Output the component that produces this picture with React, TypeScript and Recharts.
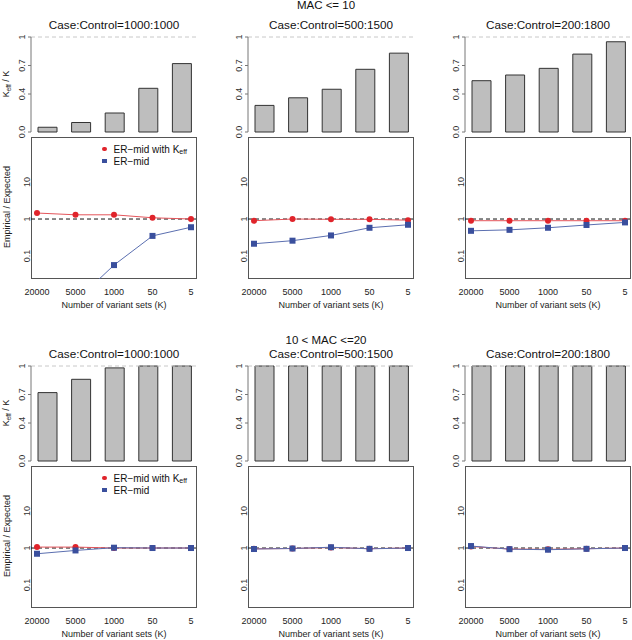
import { Bar, BarChart, Line, LineChart, ReferenceLine, XAxis, YAxis } from "recharts";

const FONT = "'Liberation Sans', Arial, Helvetica, sans-serif";

const K_LABELS = ["20000", "5000", "1000", "50", "5"];
const ROW_TITLES = ["MAC <= 10", "10 < MAC <=20"];
const CASE_CONTROL = ["Case:Control=1000:1000", "Case:Control=500:1500", "Case:Control=200:1800"];
const BAR_TICKS = [0, 0.4, 0.7, 1];
const RATIO_TICKS = [0.1, 1, 10];

// Keff / K (bars)
const KEFF_MAC10_1000 = [0.05, 0.1, 0.2, 0.46, 0.72];
const KEFF_MAC10_500 = [0.28, 0.36, 0.45, 0.66, 0.83];
const KEFF_MAC10_200 = [0.54, 0.6, 0.67, 0.82, 0.95];
const KEFF_MAC20_1000 = [0.72, 0.86, 0.98, 1.0, 1.0];
const KEFF_MAC20_500 = [1.0, 1.0, 1.0, 1.0, 1.0];
const KEFF_MAC20_200 = [1.0, 1.0, 1.0, 1.0, 1.0];

// Empirical / Expected, ER-mid with Keff
const ERK_MAC10_1000 = [1.45, 1.3, 1.3, 1.08, 1.0];
const ERK_MAC10_500 = [0.9, 1.0, 0.98, 0.98, 0.93];
const ERK_MAC10_200 = [0.9, 0.9, 0.9, 0.9, 0.9];
const ERK_MAC20_1000 = [1.06, 1.06, 1.0, 1.0, 1.0];
const ERK_MAC20_500 = [0.95, 0.97, 1.03, 0.96, 1.0];
const ERK_MAC20_200 = [1.1, 0.94, 0.92, 0.96, 1.0];

// Empirical / Expected, ER-mid
const ER_MAC10_1000 = [0.002, 0.006, 0.057, 0.35, 0.6];
const ER_MAC10_500 = [0.215, 0.26, 0.36, 0.58, 0.7];
const ER_MAC10_200 = [0.48, 0.51, 0.58, 0.69, 0.81];
const ER_MAC20_1000 = [0.7, 0.86, 1.02, 1.0, 1.0];
const ER_MAC20_500 = [0.94, 0.97, 1.05, 0.95, 1.0];
const ER_MAC20_200 = [1.13, 0.93, 0.9, 0.95, 1.0];

const PANELS = [
  [
    { keff: KEFF_MAC10_1000, erk: ERK_MAC10_1000, er: ER_MAC10_1000 },
    { keff: KEFF_MAC10_500, erk: ERK_MAC10_500, er: ER_MAC10_500 },
    { keff: KEFF_MAC10_200, erk: ERK_MAC10_200, er: ER_MAC10_200 },
  ],
  [
    { keff: KEFF_MAC20_1000, erk: ERK_MAC20_1000, er: ER_MAC20_1000 },
    { keff: KEFF_MAC20_500, erk: ERK_MAC20_500, er: ER_MAC20_500 },
    { keff: KEFF_MAC20_200, erk: ERK_MAC20_200, er: ER_MAC20_200 },
  ],
];

const BOX_LEFT = [31, 248, 465];
const ROW_TOP = [0, 329];
const BOX_W = 166;

const RED = "#e0242b";
const RED_LINE = "#e4555b";
const BLUE = "#3a4f9d";
const BLUE_LINE = "#5b6fb0";

function BarTick(props: any) {
  const { y, payload } = props;
  const v = payload.value;
  return (
    <text
      transform={`translate(25,${y}) rotate(-90)`}
      textAnchor="middle"
      fontSize={9}
      fill="#333"
      fontFamily={FONT}
    >
      {v === 0 ? "0.0" : String(v)}
    </text>
  );
}

function RatioTick(props: any) {
  const { y, payload } = props;
  return (
    <text
      transform={`translate(30,${y}) rotate(-90)`}
      textAnchor="middle"
      fontSize={9}
      fill="#333"
      fontFamily={FONT}
    >
      {String(payload.value)}
    </text>
  );
}

function KTick(props: any) {
  const { x, payload } = props;
  return (
    <text x={x} y={157.5} textAnchor="middle" fontSize={9} fill="#222" fontFamily={FONT}>
      {payload.value}
    </text>
  );
}

const redDot = (p: any) =>
  p.cy == null ? null : <circle key={`r${p.index}`} cx={p.cx} cy={p.cy} r={3} fill={RED} stroke="none" />;

const blueDot = (p: any) =>
  p.cy == null ? null : (
    <rect key={`b${p.index}`} x={p.cx - 3} y={p.cy - 3} width={6} height={6} fill={BLUE} stroke="none" />
  );

function Panel({ row, col }: { row: number; col: number }) {
  const d = PANELS[row][col];
  const left = BOX_LEFT[col];
  const top = ROW_TOP[row];
  const barData = K_LABELS.map((k, i) => ({ k, keff: d.keff[i] }));
  const lineData = K_LABELS.map((k, i) => ({ k, erk: d.erk[i], er: d.er[i] }));

  return (
    <>
      <div
        style={{
          position: "absolute",
          left,
          width: BOX_W,
          top: top + 19.3,
          fontSize: 11.7,
          lineHeight: "11.7px",
          textAlign: "center",
          whiteSpace: "nowrap",
          color: "#111",
        }}
      >
        {CASE_CONTROL[col]}
      </div>

      <div
        style={{
          position: "absolute",
          left,
          top: top + 137,
          width: BOX_W,
          height: 142,
          border: "1px solid #555",
          boxSizing: "border-box",
        }}
      />

      <div style={{ position: "absolute", left: left - 31, top: top + 137 }}>
        <LineChart width={197} height={180} data={lineData} margin={{ top: 0, right: 0, bottom: 0, left: 0 }}>
          <XAxis
            dataKey="k"
            height={38}
            padding={{ left: 6, right: 6 }}
            axisLine={false}
            tickLine={false}
            interval={0}
            tick={<KTick />}
          />
          <YAxis
            width={31}
            type="number"
            scale="log"
            domain={[0.024, 164]}
            allowDataOverflow
            ticks={RATIO_TICKS}
            interval={0}
            axisLine={false}
            tickLine={false}
            tick={<RatioTick />}
          />
          <ReferenceLine y={1} stroke="#111" strokeDasharray="4 3" />
          <Line
            type="linear"
            dataKey="erk"
            stroke={RED_LINE}
            strokeWidth={1}
            dot={redDot}
            isAnimationActive={false}
          />
          <Line
            type="linear"
            dataKey="er"
            stroke={BLUE_LINE}
            strokeWidth={1}
            dot={blueDot}
            isAnimationActive={false}
          />
        </LineChart>
      </div>

      <div style={{ position: "absolute", left: left - 31, top: top + 35 }}>
        <BarChart width={199} height={106} data={barData} margin={{ top: 2, right: 0, bottom: 9, left: 0 }}>
          <XAxis dataKey="k" hide />
          <YAxis
            width={31}
            type="number"
            domain={[0, 1]}
            ticks={BAR_TICKS}
            interval={0}
            stroke="#777"
            tickSize={3}
            tick={<BarTick />}
          />
          <ReferenceLine y={1} stroke="#c8c8c8" strokeDasharray="4 3" />
          <Bar dataKey="keff" barSize={19} fill="#bebebe" stroke="#333" strokeWidth={1} isAnimationActive={false} />
        </BarChart>
      </div>

      <div
        style={{
          position: "absolute",
          left,
          width: BOX_W,
          top: top + 300.6,
          fontSize: 9,
          lineHeight: "9px",
          textAlign: "center",
          whiteSpace: "nowrap",
          color: "#222",
        }}
      >
        Number of variant sets (K)
      </div>

      {col === 0 && (
        <>
          <div
            style={{
              position: "absolute",
              left: 7,
              top: top + 84,
              fontSize: 9,
              lineHeight: "9px",
              whiteSpace: "nowrap",
              color: "#222",
              transform: "translate(-50%, -50%) rotate(-90deg)",
            }}
          >
            K<span style={{ fontSize: 6.5, verticalAlign: -2 }}>eff</span> / K
          </div>
          <div
            style={{
              position: "absolute",
              left: 7,
              top: top + 207,
              fontSize: 9,
              lineHeight: "9px",
              whiteSpace: "nowrap",
              color: "#222",
              transform: "translate(-50%, -50%) rotate(-90deg)",
            }}
          >
            Empirical / Expected
          </div>
          <div style={{ position: "absolute", left: left + 71, top: top + 143, fontSize: 10, color: "#111" }}>
            <div style={{ display: "flex", alignItems: "center", height: 12, whiteSpace: "nowrap" }}>
              <span
                style={{ width: 4.5, height: 4.5, borderRadius: "50%", background: RED, marginRight: 7, flex: "none" }}
              />
              ER−mid with K<span style={{ fontSize: 7, position: "relative", top: 2 }}>eff</span>
            </div>
            <div style={{ display: "flex", alignItems: "center", height: 12, whiteSpace: "nowrap" }}>
              <span style={{ width: 4.5, height: 4.5, background: BLUE, marginRight: 7, flex: "none" }} />
              ER−mid
            </div>
          </div>
        </>
      )}
    </>
  );
}

export default function App() {
  return (
    <div
      style={{
        position: "absolute",
        left: 0,
        top: 0,
        width: 632,
        height: 640,
        background: "#fff",
        fontFamily: FONT,
        overflow: "hidden",
      }}
    >
      {ROW_TITLES.map((t, r) => (
        <div
          key={t}
          style={{
            position: "absolute",
            left: 226,
            width: 200,
            top: r === 0 ? 0.3 : 335,
            fontSize: 11.5,
            lineHeight: "11.5px",
            textAlign: "center",
            whiteSpace: "nowrap",
            color: "#111",
          }}
        >
          {t}
        </div>
      ))}
      {[0, 1].map((r) => [0, 1, 2].map((c) => <Panel key={`${r}-${c}`} row={r} col={c} />))}
    </div>
  );
}
